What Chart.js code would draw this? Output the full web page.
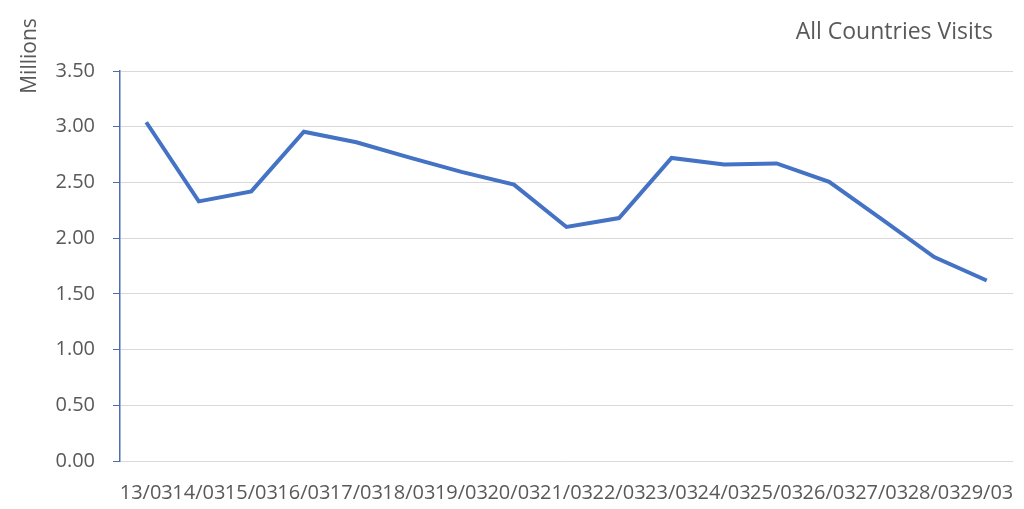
<!DOCTYPE html>
<html><head><meta charset="utf-8">
<script src="https://cdn.jsdelivr.net/npm/chart.js@4"></script>
<style>html,body{margin:0;padding:0;background:#fff}#wrap{width:1024px;height:509px}</style>
</head><body><div id="wrap"><canvas id="c" width="1024" height="509"></canvas></div>
<script>
const categories = ["13/03","14/03","15/03","16/03","17/03","18/03","19/03","20/03","21/03","22/03","23/03","24/03","25/03","26/03","27/03","28/03","29/03"];
const visits = [3.04,2.33,2.42,2.955,2.86,2.725,2.595,2.48,2.10,2.18,2.72,2.66,2.67,2.505,2.17,1.83,1.62];
const titleText = "All Countries Visits";
const unitText = "Millions";
const FONT = "'Open Sans', 'Liberation Sans', sans-serif";
const textPlugin = {
  id: 'texts',
  afterDraw(chart) {
    const ctx = chart.ctx;
    ctx.save();
    ctx.fillStyle = '#595959';
    ctx.font = "23px " + FONT;
    ctx.textAlign = 'right';
    ctx.textBaseline = 'middle';
    ctx.fillText(titleText, 993, 32);
    ctx.translate(30, 56);
    ctx.rotate(-Math.PI / 2);
    ctx.textAlign = 'center';
    ctx.font = "21px " + FONT;
    ctx.fillText(unitText, 0, 0);
    ctx.restore();
  }
};
new Chart(document.getElementById('c'), {
  type: 'line',
  data: { labels: categories, datasets: [{ data: visits, borderColor: '#4472C4', borderWidth: 4, pointRadius: 0, tension: 0, fill: false }] },
  options: {
    responsive: false, animation: false,
    layout: { padding: { top: 71, right: 11, bottom: 0, left: 0 } },
    plugins: { legend: { display: false }, tooltip: { enabled: false }, title: { display: false } },
    scales: {
      x: {
        offset: true,
        grid: { display: false, drawTicks: false },
        border: { display: false },
        ticks: { autoSkip: false, maxRotation: 0, minRotation: 0, padding: 20, color: '#595959', font: { family: FONT, size: 20 } },
        afterFit(s) { s.height = 48; s.paddingLeft = 0; s.paddingRight = 0; }
      },
      y: {
        min: 0, max: 3.5,
        grid: { color: '#d9d9d9', lineWidth: 1, tickLength: 7, tickColor: '#4a6db5' },
        border: { display: true, color: '#4a6db5', width: 1.5 },
        ticks: { stepSize: 0.5, padding: 18, color: '#595959', font: { family: FONT, size: 20 }, callback: v => Number(v).toFixed(2) },
        afterFit(s) { s.width = 120; }
      }
    }
  },
  plugins: [textPlugin]
});
</script></body></html>
